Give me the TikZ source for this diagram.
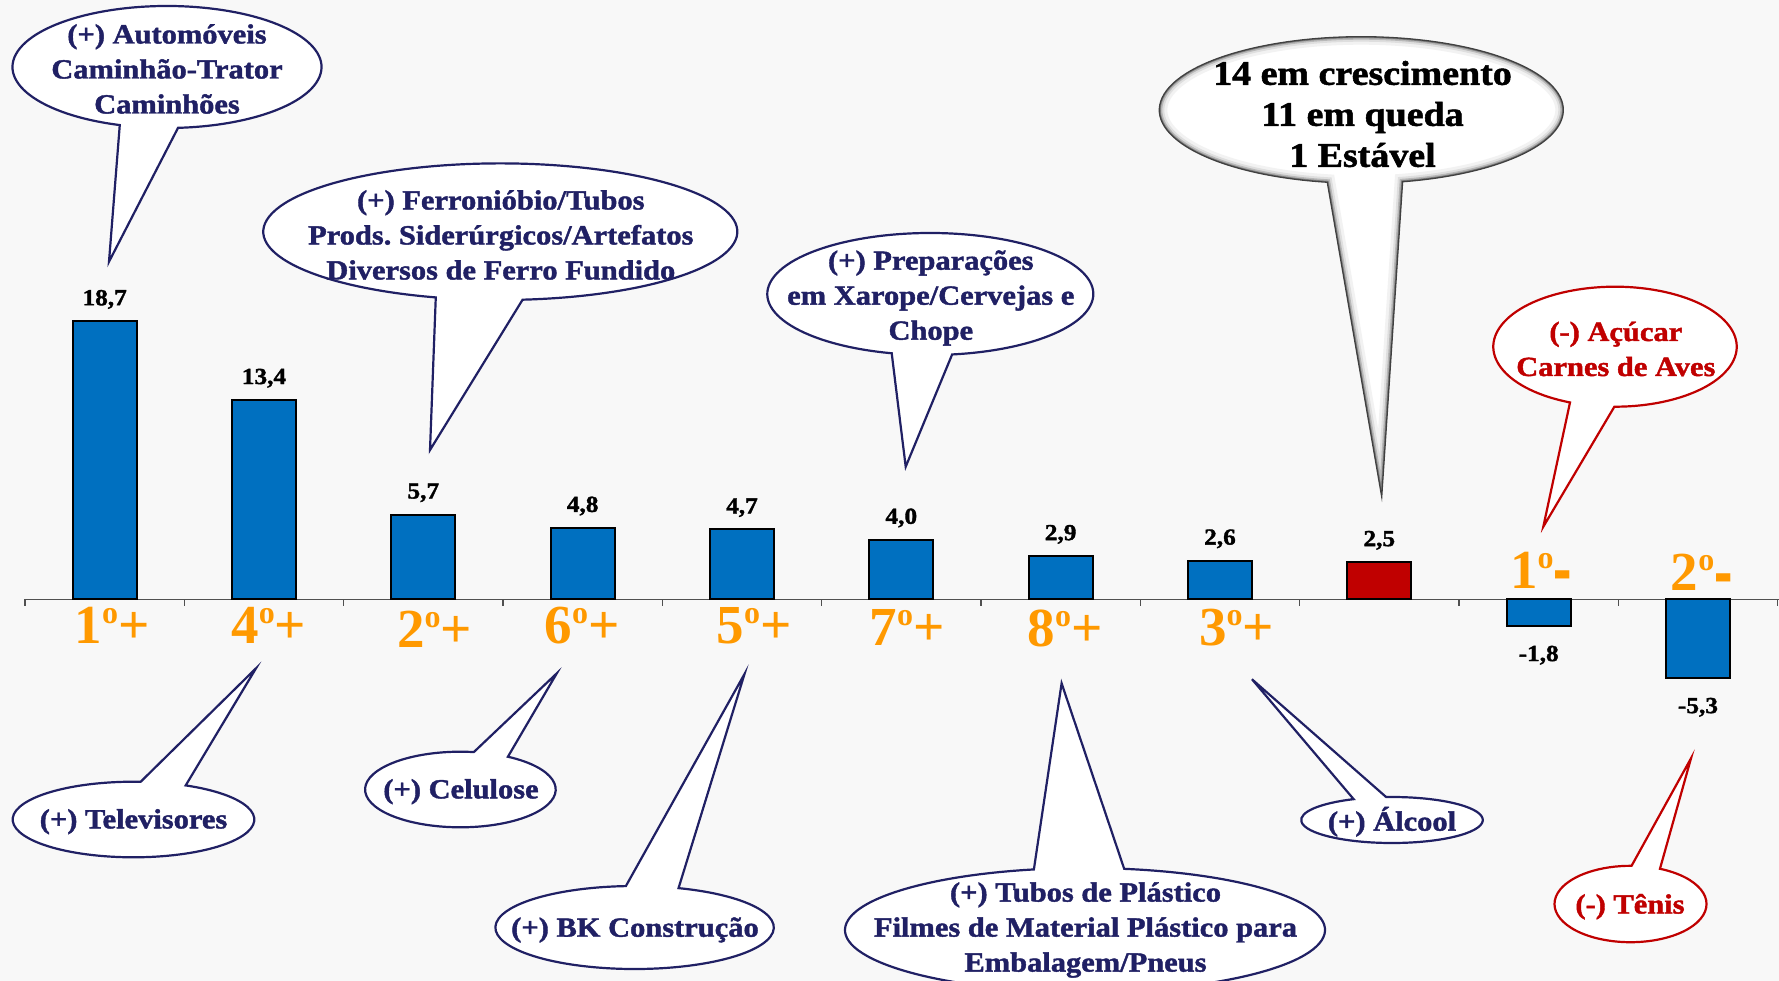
\documentclass[tikz,border=0pt]{standalone}
\usepackage{fontspec}
\setmainfont{Liberation Serif}[FakeStretch=1.1, BoldFeatures={FakeBold=1.5}]
\newfontfamily\rankfont{Liberation Serif}
\definecolor{navy}{RGB}{32,32,100}
\definecolor{dred}{RGB}{192,0,0}
\definecolor{orng}{RGB}{255,153,0}
\definecolor{barblue}{RGB}{0,112,192}
\definecolor{bg}{RGB}{248,248,248}
\definecolor{axisgray}{RGB}{80,80,80}
% callout outline: centre, radii, tail between angles #5<#6, tip #7
\newcommand{\callpath}[7]{([shift={(#1,#2)}]#6:#3 and #4) arc[start angle=#6, end angle=#5+360, x radius=#3, y radius=#4] -- #7 -- cycle}
\newcommand{\bigpath}{\callpath{1361.3}{110}{202}{73.3}{78.2}{99.7}{(tipBig)}}
\newcommand{\posbar}[4]{%
  \pgfmathsetmacro\bx{104.67+159.33*(#1-1)}%
  \pgfmathsetmacro\bh{#2*14.87}%
  \node[barbox, fill=#4, minimum height=\bh pt, anchor=south] (bar#1) at (\bx,599.3) {};%
  \node[vallab, anchor=base] (val#1) at ([yshift=16pt]bar#1.north) {#3};%
}
\newcommand{\negbar}[4]{%
  \pgfmathsetmacro\bx{104.67+159.33*(#1-1)}%
  \pgfmathsetmacro\bh{#2*14.87}%
  \node[barbox, fill=#4, minimum height=\bh pt, anchor=north] (bar#1) at (\bx,599.3) {};%
  \node[vallab, anchor=base] (val#1) at ([yshift=-35pt]bar#1.south) {#3};%
}
\newcommand{\rankplus}[4]{\node[ranklab, anchor=base] (rk#1) at (#2,#3) {#4\raisebox{20pt}{\fontsize{32}{32}\selectfont o}+};}
\newcommand{\rankminus}[4]{\node[ranklab, anchor=base] (rk#1) at (#2,#3) {#4\raisebox{20pt}{\fontsize{32}{32}\selectfont o}\raisebox{-9.3pt}{\scalebox{1}[1.75]{-}}};}
\tikzset{
  barbox/.style={draw=black, line width=2pt, minimum width=64pt, inner sep=0pt, outer sep=0pt},
  vallab/.style={font=\bfseries\fontsize{23}{23}\selectfont, text=black, inner sep=0pt},
  ranklab/.style={font=\rankfont\bfseries\fontsize{55}{55}\selectfont, text=orng, inner sep=0pt},
  axisline/.style={draw=axisgray, line width=1.3pt},
  navycall/.style={draw=navy, fill=white, line width=2.2pt, line join=miter},
  redcall/.style={draw=dred, fill=white, line width=2.2pt, line join=miter},
  calltext/.style={font=\bfseries\fontsize{27.7}{35}\selectfont, text=navy, align=center, inner sep=0pt},
  redtext/.style={calltext, text=dred},
  bigtext/.style={font=\bfseries\fontsize{34.5}{41}\selectfont, text=black, align=center, inner sep=0pt}
}
\begin{document}
\frenchspacing
\begin{tikzpicture}[x=1pt,y=-1pt]
\fill[bg] (0,0) rectangle (1779,981);
\useasboundingbox (0,0) rectangle (1779,981);
\clip (0,0) rectangle (1779,981);

% axis
\coordinate (axL) at (25,599.3);
\coordinate (axR) at (1779,599.3);
\draw[axisline] (axL) -- (axR);
\foreach \i in {0,...,11} \draw[axisline] ({25+159.33*\i},599.3) -- ++(0,6.5);

% bars
\posbar{1}{18.7}{18,7}{barblue}
\posbar{2}{13.4}{13,4}{barblue}
\posbar{3}{5.7}{5,7}{barblue}
\posbar{4}{4.8}{4,8}{barblue}
\posbar{5}{4.7}{4,7}{barblue}
\posbar{6}{4.0}{4,0}{barblue}
\posbar{7}{2.9}{2,9}{barblue}
\posbar{8}{2.6}{2,6}{barblue}
\posbar{9}{2.5}{2,5}{dred}
\negbar{10}{1.8}{-1,8}{barblue}
\negbar{11}{5.3}{-5,3}{barblue}

% ranks
\rankplus{1}{112}{643}{1}
\rankplus{2}{268.7}{643}{4}
\rankplus{3}{434.5}{647}{2}
\rankplus{4}{582}{643}{6}
\rankplus{5}{754}{643}{5}
\rankplus{6}{907}{645}{7}
\rankplus{7}{1065}{646}{8}
\rankplus{8}{1236.6}{645}{3}
\rankminus{10}{1541}{588.3}{1}
\rankminus{11}{1701.7}{590.7}{2}

% callout tips
\coordinate (tipAuto) at (109,261.7);
\coordinate (tipFerro) at (430,450);
\coordinate (tipPrep) at (905.7,466.7);
\coordinate (tipBig) at (1381.7,496.7);
\coordinate (tipAcu) at (1543.3,526.7);
\coordinate (tipTele) at (256,668.3);
\coordinate (tipCel) at (556.8,673.3);
\coordinate (tipBK) at (744.5,674);
\coordinate (tipTubo) at (1061.6,683.3);
\coordinate (tipAlc) at (1252,679.3);
\coordinate (tipTen) at (1691,758.3);

% callout shapes
\path[navycall] \callpath{167}{67}{154.5}{61}{85.9}{107.8}{(tipAuto)};
\path[navycall] \callpath{500.3}{231.7}{237}{68.3}{84.6}{105.8}{(tipFerro)};
\path[navycall] \callpath{930.3}{294}{163}{61}{82.3}{103.7}{(tipPrep)};
\path[redcall] \callpath{1615}{346.7}{121.7}{60}{90.3}{111.7}{(tipAcu)};
\path[navycall] \callpath{133.5}{819.5}{120.8}{37.8}{273.4}{295.6}{(tipTele)};
\path[navycall] \callpath{460.4}{789.5}{95.3}{37.8}{278.1}{299.9}{(tipCel)};
\path[navycall] \callpath{634.6}{927.5}{139.2}{41.5}{266.4}{288.4}{(tipBK)};
\path[navycall] \callpath{1085}{930}{240}{62}{257.7}{279.4}{(tipTubo)};
\path[navycall] \callpath{1392}{820}{90.8}{23}{245}{266.3}{(tipAlc)};
\path[redcall] \callpath{1630.5}{904}{76}{38.2}{270.8}{292.8}{(tipTen)};

% big grey callout with soft inner edge
\begin{scope}
  \clip \bigpath;
  \fill[white] (1100,0) rectangle (1650,520);
  \draw[line width=16pt, black!5] \bigpath;
  \draw[line width=10pt, black!13] \bigpath;
  \draw[line width=6pt, black!28] \bigpath;
  \draw[line width=3pt, black!50] \bigpath;
\end{scope}
\draw[line width=1.3pt, black!75, line join=miter] \bigpath;

% callout texts
\node[calltext] (tAuto) at (167,69) {(+) Automóveis\\Caminhão-Trator\\Caminhões};
\node[calltext] (tFerro) at (500.8,235) {(+) Ferronióbio/Tubos\\Prods. Siderúrgicos/Artefatos\\Diversos de Ferro Fundido};
\node[calltext] (tPrep) at (930.8,298) {(+) Preparações\\em Xarope/Cervejas e\\Chope};
\node[bigtext] (tBig) at (1362.5,114) {14 em crescimento\\11 em queda\\1 Estável};
\node[redtext] (tAcu) at (1615.8,349) {(-) Açúcar\\Carnes de Aves};
\node[calltext] (tTele) at (133.5,821.7) {(+) Televisores};
\node[calltext] (tCel) at (461,791.7) {(+) Celulose};
\node[calltext] (tBK) at (635,930) {(+) BK Construção};
\node[calltext] (tTubo) at (1085.5,930) {(+) Tubos de Plástico\\Filmes de Material Plástico para\\Embalagem/Pneus};
\node[calltext] (tAlc) at (1392,821.7) {(+) Álcool};
\node[redtext] (tTen) at (1630,906.7) {(-) Tênis};
\end{tikzpicture}
\end{document}
